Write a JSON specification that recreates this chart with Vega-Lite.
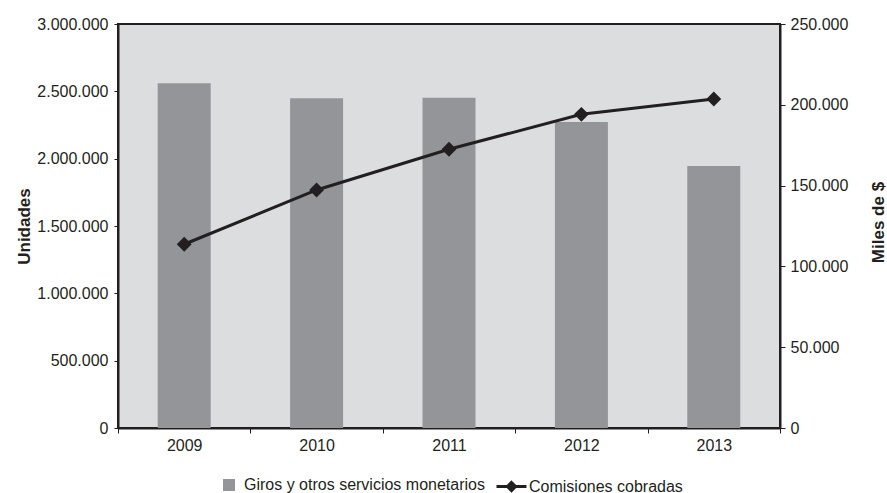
{
  "$schema": "https://vega.github.io/schema/vega-lite/v6.json",
  "width": 662,
  "height": 404,
  "autosize": "none",
  "padding": {"left": 118, "top": 24, "right": 107, "bottom": 65},
  "background": "white",
  "config": {
    "font": "Liberation Sans",
    "view": {"fill": "#dcdddf", "stroke": "#231f20", "strokeWidth": 2},
    "locale": {"number": {"decimal": ",", "thousands": ".", "grouping": [3], "currency": ["$", ""]}},
    "axis": {
      "domainColor": "#231f20",
      "domainWidth": 2,
      "tickColor": "#231f20",
      "tickWidth": 1,
      "labelColor": "#231f20",
      "labelFontSize": 16,
      "titleFontSize": 17,
      "titleFontWeight": "bold",
      "titleColor": "#231f20",
      "grid": false
    },
    "legend": {
      "labelFontSize": 16,
      "labelColor": "#231f20",
      "labelLimit": 400,
      "padding": 0,
      "offset": 0
    }
  },
  "data": {
    "values": [
      {"year": "2009", "unidades": 2560000, "comisiones": 113700},
      {"year": "2010", "unidades": 2448000, "comisiones": 147300},
      {"year": "2011", "unidades": 2453000, "comisiones": 172500},
      {"year": "2012", "unidades": 2272000, "comisiones": 194100},
      {"year": "2013", "unidades": 1946000, "comisiones": 203600}
    ]
  },
  "encoding": {
    "x": {
      "field": "year",
      "type": "ordinal",
      "scale": {"paddingInner": 0, "paddingOuter": 0},
      "axis": {"title": null, "labelAngle": 0, "tickBand": "extent", "tickSize": 5, "labelPadding": 4}
    }
  },
  "layer": [
    {
      "mark": {"type": "bar", "size": 53},
      "encoding": {
        "y": {
          "field": "unidades",
          "type": "quantitative",
          "scale": {"domain": [0, 3000000], "nice": false},
          "axis": {
            "orient": "left",
            "title": "Unidades",
            "values": [0, 500000, 1000000, 1500000, 2000000, 2500000, 3000000],
            "format": ",.0f",
            "tickSize": 4,
            "labelPadding": 6,
            "titleAngle": -90,
            "titleX": -89,
            "titleBaseline": "alphabetic"
          }
        },
        "fill": {
          "datum": "Giros y otros servicios monetarios",
          "type": "nominal",
          "scale": {"range": ["#939598"]},
          "legend": {
            "title": null,
            "orient": "none",
            "legendX": 103,
            "legendY": 453,
            "symbolType": "square",
            "symbolSize": 144,
            "symbolStrokeWidth": 0,
            "labelOffset": 7
          }
        }
      }
    },
    {
      "encoding": {
        "y": {
          "field": "comisiones",
          "type": "quantitative",
          "scale": {"domain": [0, 250000], "nice": false},
          "axis": {
            "orient": "right",
            "title": "Miles de $",
            "values": [0, 50000, 100000, 150000, 200000, 250000],
            "format": ",.0f",
            "tickSize": 5,
            "labelPadding": 5,
            "titleAngle": -90,
            "titleX": 103,
            "titleY": 198,
            "titleBaseline": "alphabetic"
          }
        }
      },
      "layer": [
        {
          "mark": {"type": "line", "strokeWidth": 3},
          "encoding": {
            "stroke": {
              "datum": "Comisiones cobradas",
              "type": "nominal",
              "scale": {"range": ["#231f20"]},
              "legend": {
                "title": null,
                "orient": "none",
                "legendX": 377,
                "legendY": 446,
                "labelOffset": 1,
                "symbolSize": 900,
                "encode": {
                  "symbols": {
                    "update": {
                      "shape": {"value": "M-1,0L1,0M0,-0.27L0.27,0L0,0.27L-0.27,0Z"},
                      "size": {"value": 900},
                      "fill": {"value": "#231f20"},
                      "stroke": {"value": "#231f20"},
                      "strokeWidth": {"value": 3},
                      "opacity": {"value": 1}
                    }
                  }
                }
              }
            }
          }
        },
        {
          "mark": {"type": "point", "shape": "diamond", "size": 220, "filled": true, "color": "#231f20", "opacity": 1}
        }
      ]
    }
  ],
  "resolve": {"scale": {"y": "independent"}}
}
